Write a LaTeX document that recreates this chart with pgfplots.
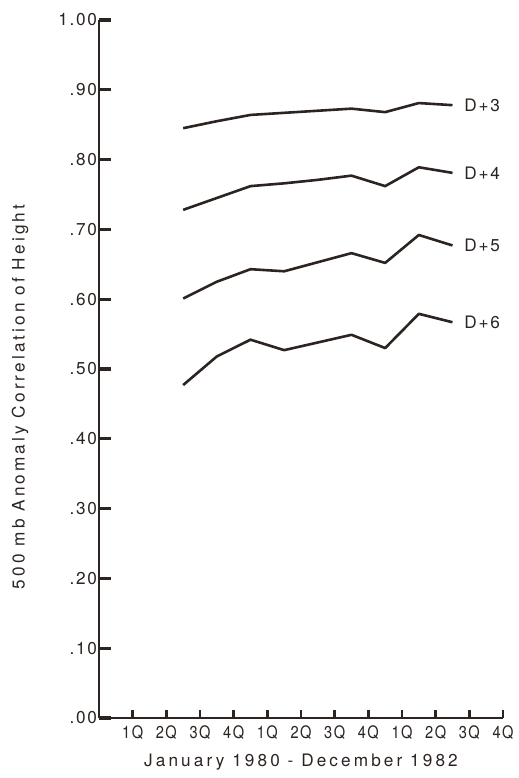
\documentclass[border=0pt]{standalone}
\usepackage{fontspec}
\setmainfont{TeX Gyre Heros}[LetterSpace=10]
\newfontfamily\widefont{TeX Gyre Heros}[LetterSpace=18]
\usepackage{graphicx}
\usepackage{pgfplots}
\pgfplotsset{compat=1.18}
\definecolor{ink}{HTML}{2B2420}
\newcommand\sqz[1]{\scalebox{0.85}[1]{#1}}

% Quarterly means of the 500 mb anomaly correlation, by forecast day
\pgfplotstableread{
x    d3    d4    d5    d6
2.5  0.845 0.728 0.601 0.477
3.5  0.855 0.745 0.625 0.518
4.5  0.864 0.762 0.643 0.542
5.5  0.867 0.766 0.640 0.527
6.5  0.870 0.771 0.653 0.538
7.5  0.873 0.777 0.666 0.549
8.5  0.868 0.762 0.652 0.530
9.5  0.881 0.789 0.692 0.579
10.5 0.878 0.781 0.677 0.567
}\corr

\begin{document}
\begin{tikzpicture}[font=\fontsize{8.6}{10}\selectfont]
\useasboundingbox (-49.5pt,-30pt) rectangle (210pt,359pt);
\begin{axis}[
  at={(0,0)}, anchor=south west,
  scale only axis, width=202pt, height=349pt,
  xmin=0, xmax=12, ymin=0, ymax=1,
  axis lines=left,
  axis line style={-, line width=1.1pt, ink},
  tick align=inside,
  major tick length=6pt,
  tick style={line width=1.2pt, draw=ink},
  x tick style={yscale=0.7},
  y tick style={line width=1.6pt, draw=ink},
  xtick={1,2,3,4,5,6,7,8,9,10,11,12},
  xticklabels={\sqz{1Q},\sqz{2Q},\sqz{3Q},\sqz{4Q},\sqz{1Q},\sqz{2Q},\sqz{3Q},\sqz{4Q},\sqz{1Q},\sqz{2Q},\sqz{3Q},\sqz{4Q}},
  ytick={0,0.1,0.2,0.3,0.4,0.5,0.6,0.7,0.8,0.9,1.0},
  yticklabels={.00,.10,.20,.30,.40,.50,.60,.70,.80,.90,1.00},
  /pgf/number format/assume math mode=true,
  xticklabel style={yshift=-0.5pt, text=ink},
  yticklabel style={xshift=2.5pt, text=ink},
  xlabel={January 1980 - December 1982},
  ylabel={500 mb Anomaly Correlation of Height},
  xlabel style={at={(rel axis cs:0.5,0)}, anchor=center, yshift=-22pt, text=ink, font=\fontsize{8.6}{10}\widefont},
  ylabel style={at={(rel axis cs:-0.1955,0.46)}, anchor=center, text=ink, font=\fontsize{8.6}{10}\widefont},
  clip=false,
]
\addplot[ink, line width=1.3pt, line join=round] table[x=x, y=d3] {\corr}
  node[pos=1, anchor=west, xshift=2pt, text=ink] {D+3};
\addplot[ink, line width=1.3pt, line join=round] table[x=x, y=d4] {\corr}
  node[pos=1, anchor=west, xshift=2pt, text=ink] {D+4};
\addplot[ink, line width=1.3pt, line join=round] table[x=x, y=d5] {\corr}
  node[pos=1, anchor=west, xshift=2pt, text=ink] {D+5};
\addplot[ink, line width=1.3pt, line join=round] table[x=x, y=d6] {\corr}
  node[pos=1, anchor=west, xshift=2pt, text=ink] {D+6};
\end{axis}
\end{tikzpicture}
\end{document}
